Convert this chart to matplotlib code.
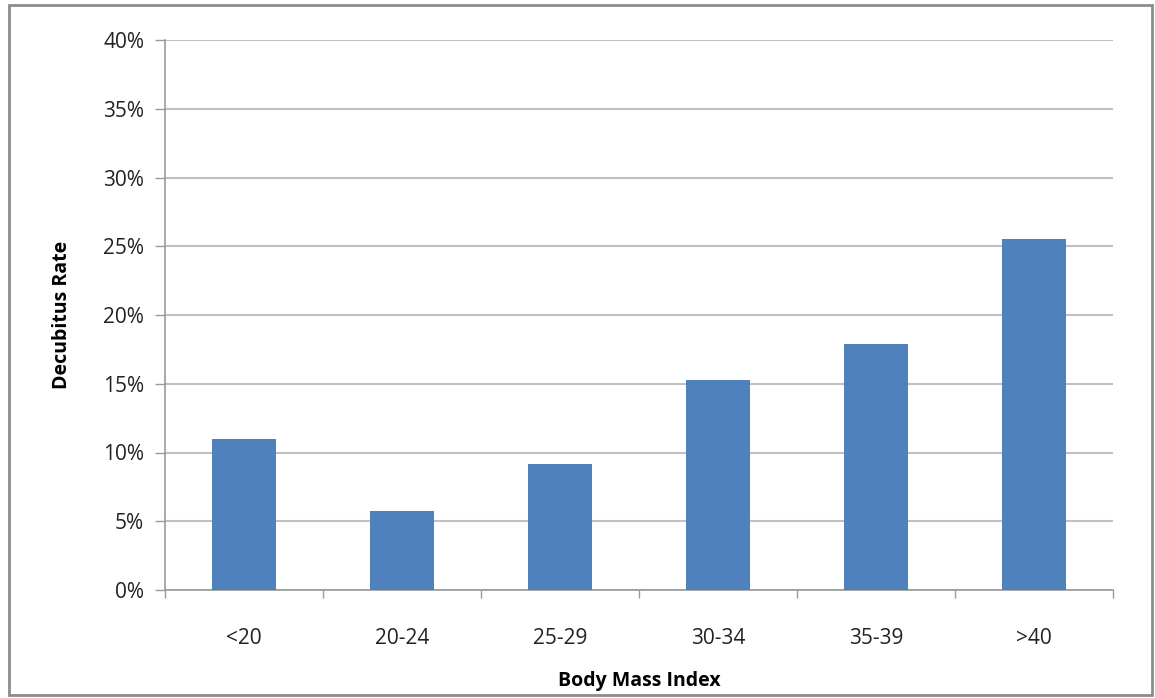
import matplotlib.pyplot as plt
from matplotlib.patches import Rectangle
from matplotlib.ticker import FuncFormatter, MultipleLocator

categories = ["<20", "20-24", "25-29", "30-34", "35-39", ">40"]
rates = [11.0, 5.75, 9.15, 15.25, 17.9, 25.55]
yticks = [0, 5, 10, 15, 20, 25, 30, 35, 40]

plt.rcParams['font.family'] = ['Open Sans', 'DejaVu Sans']

fig = plt.figure(figsize=(11.55, 6.98), dpi=100)
ax = fig.add_axes([165/1155, 1 - 590/698, (1113-165)/1155, 550/698])

# outer chart frame
fig.patches.append(Rectangle((9/1155, 3/698), 1143/1155, 690/698, transform=fig.transFigure,
                             fill=False, edgecolor='#8c8c8c', linewidth=2))

x = range(len(categories))
ax.bar(x, rates, width=0.4, color='#4f81bd', zorder=3)

ax.set_xlim(-0.5, len(categories) - 0.5)
ax.set_ylim(0, 40)
ax.set_yticks(yticks)
ax.yaxis.set_major_formatter(FuncFormatter(lambda v, p: f"{v:.0f}%"))
ax.yaxis.grid(True, color='#c0c0c0', linewidth=1.5, zorder=0)

ax.set_xticks(list(x))
ax.set_xticklabels(categories)
ax.xaxis.set_minor_locator(MultipleLocator(1, offset=0.5))
ax.tick_params(axis='x', which='major', length=0, pad=27, labelsize=15, labelcolor='#222222')
ax.tick_params(axis='x', which='minor', length=6, color='#999999', width=1)
ax.tick_params(axis='y', length=7, color='#999999', width=1, labelsize=15, labelcolor='#222222', pad=8)

for s in ['top', 'right']:
    ax.spines[s].set_visible(False)
for s in ['left', 'bottom']:
    ax.spines[s].set_color('#999999')
    ax.spines[s].set_linewidth(1.2)

ax.set_ylabel("Decubitus Rate", fontsize=14, fontweight='bold', labelpad=22)
ax.set_xlabel("Body Mass Index", fontsize=14, fontweight='bold', labelpad=16)

fig.savefig("out.png", dpi=100)
